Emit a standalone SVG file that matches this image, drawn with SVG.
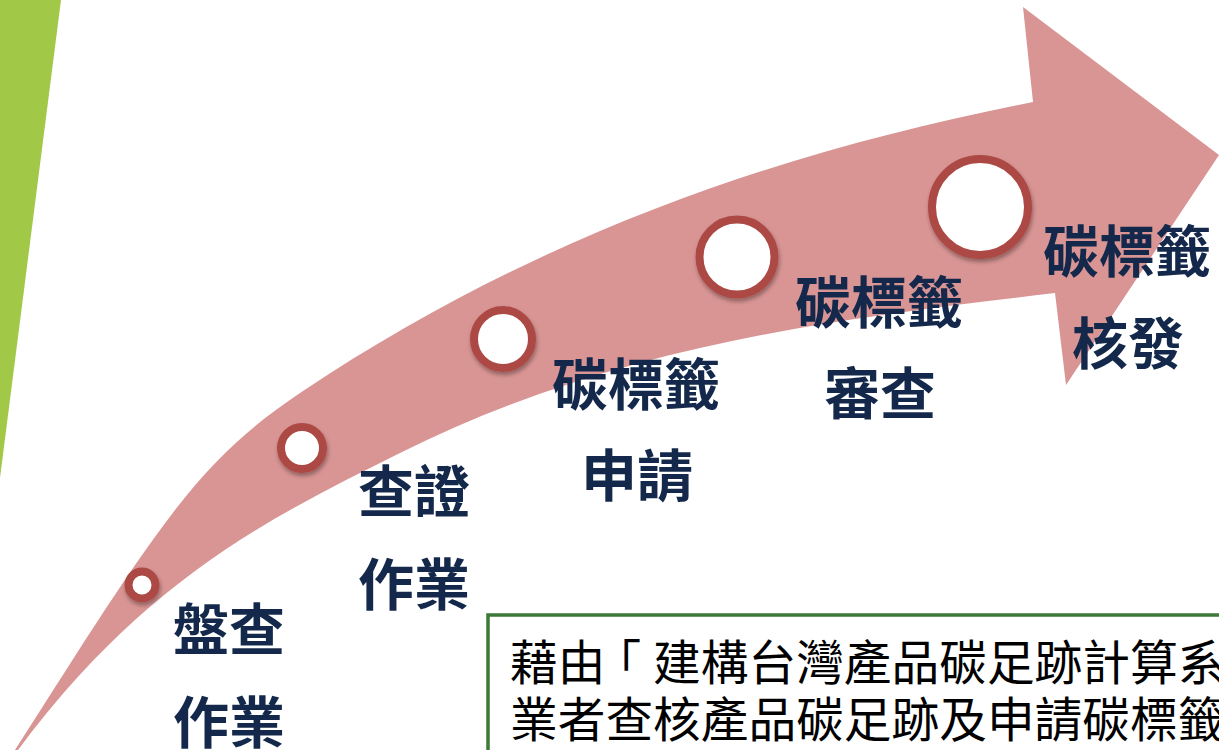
<svg xmlns="http://www.w3.org/2000/svg" width="1219" height="750" viewBox="0 0 1219 750">
<defs>
<style>
.lbl{font-family:"Noto Sans CJK TC","Noto Sans CJK SC",sans-serif;font-weight:700;font-size:56px;fill:#13284A;text-anchor:middle}
.body{font-family:"Noto Sans CJK TC","Noto Sans CJK SC",sans-serif;font-weight:400;font-size:47.7px;fill:#000}
.dot{fill:#fff;stroke:#AD4945;stroke-width:8;filter:url(#sh)}
</style>
<filter id="sh" x="-30%" y="-30%" width="160%" height="170%">
<feDropShadow dx="1" dy="3" stdDeviation="2" flood-color="#000" flood-opacity="0.35"/>
</filter>
</defs>
<rect width="1219" height="750" fill="#fff"/>
<polygon points="0,0 61,0 0,478" fill="#A2C847"/>
<g id="connectors">
<path id="arrow" fill="#D99594" d="M 15,750 C 68,668 122,579 175,510 C 217,455 258,421 300,393 C 544,230 789,150 1033,102 L 1023,7 L 1219,155 L 1066,385 L 1055,293 C 837,319 618,344 400,453 C 273,516 145,579 18,750 L 18,762 L 7,762 Z"/>
</g>
<g id="node1">
<circle class="dot" cx="142" cy="585" r="13.5"/>
<text class="lbl" x="229" y="650">盤查</text>
<text class="lbl" x="229" y="743">作業</text>
</g>
<g id="node2">
<circle class="dot" cx="302" cy="448" r="21"/>
<text class="lbl" x="414" y="512">查證</text>
<text class="lbl" x="414" y="605">作業</text>
</g>
<g id="node3">
<circle class="dot" cx="503" cy="339" r="29"/>
<text class="lbl" x="636" y="405">碳標籤</text>
<text class="lbl" x="637" y="496">申請</text>
</g>
<g id="node4">
<circle class="dot" cx="737" cy="257" r="37.5"/>
<text class="lbl" x="879" y="323">碳標籤</text>
<text class="lbl" x="880" y="414">審查</text>
</g>
<g id="node5">
<circle class="dot" cx="980" cy="207" r="48"/>
<text class="lbl" x="1127" y="272">碳標籤</text>
<text class="lbl" x="1128" y="364">核發</text>
</g>
<g id="note">
<rect x="488" y="615" width="800" height="200" fill="#fff" stroke="#3B7A37" stroke-width="3.5"/>
<text class="body" x="510" y="680" dx="0 0 -12 12">藉由「建構台灣產品碳足跡計算系</text>
<text class="body" x="510" y="737">業者查核產品碳足跡及申請碳標籤</text>
</g>
</svg>
